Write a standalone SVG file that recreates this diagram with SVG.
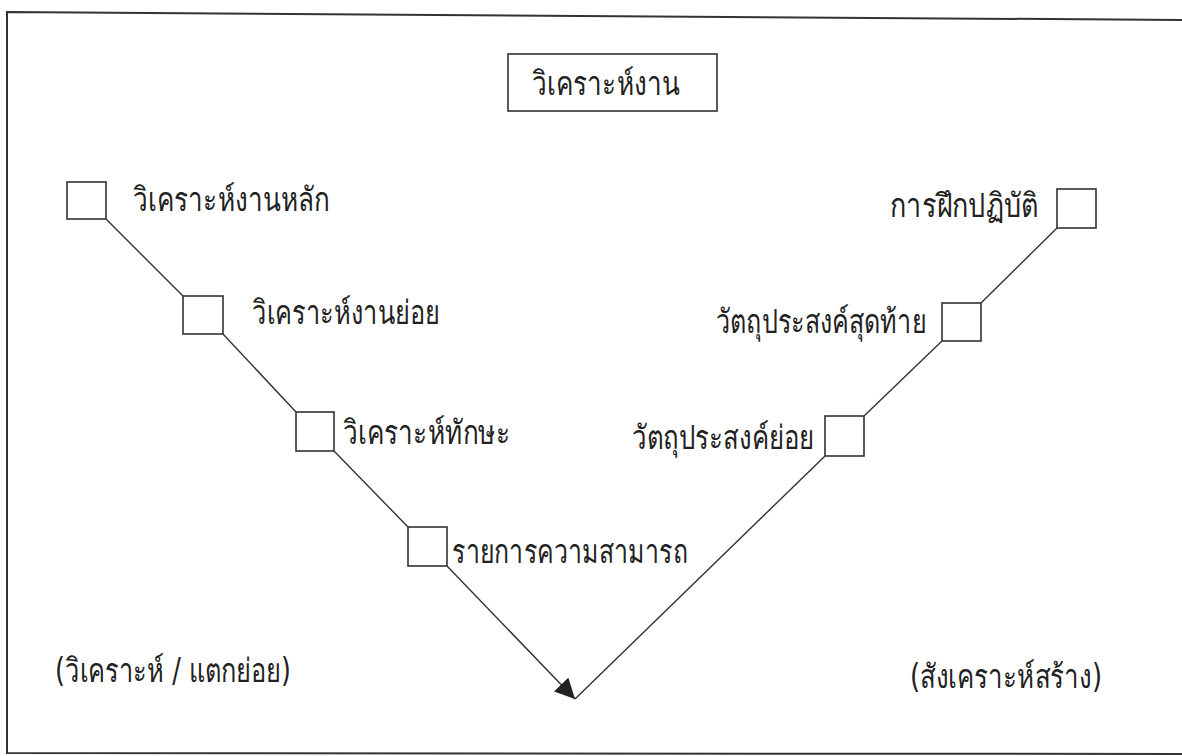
<svg xmlns="http://www.w3.org/2000/svg" width="1182" height="756" viewBox="0 0 1182 756">
<defs>
<style>
.frame{fill:none;stroke:#333;stroke-width:2}
.box{fill:#fff;stroke:#333;stroke-width:1.6}
.ln{fill:none;stroke:#333;stroke-width:1.4}
.t{font-family:"DejaVu Sans","Noto Sans",sans-serif;font-size:33px;fill:#222}
</style>
<marker id="arr" viewBox="0 0 10 10" refX="10" refY="5" markerWidth="20" markerHeight="20" markerUnits="userSpaceOnUse" orient="auto">
<path d="M0,0 L10,5 L0,10 Z" fill="#222"/>
</marker>
</defs>
<rect width="1182" height="756" fill="#fff"/>
<path class="frame" d="M1182,20 L7,12 L7,753 L1182,754"/>
<g id="title">
<rect class="box" x="508" y="54" width="209" height="57"/>
<text class="t" x="532" y="95" textLength="148" lengthAdjust="spacingAndGlyphs">วิเคราะห์งาน</text>
</g>
<g id="connectors">
<line class="ln" x1="106" y1="219" x2="183" y2="296"/>
<line class="ln" x1="223" y1="334" x2="296" y2="412"/>
<line class="ln" x1="334" y1="451" x2="408" y2="527"/>
<line class="ln" x1="447" y1="566" x2="575" y2="699" marker-end="url(#arr)"/>
<line class="ln" x1="575" y1="699" x2="825" y2="456"/>
<line class="ln" x1="864" y1="416" x2="942" y2="341"/>
<line class="ln" x1="981" y1="303" x2="1057" y2="228"/>
</g>
<g id="n1"><rect class="box" x="67" y="182" width="39" height="37"/><text class="t" x="133" y="211" textLength="197" lengthAdjust="spacingAndGlyphs">วิเคราะห์งานหลัก</text></g>
<g id="n2"><rect class="box" x="183" y="296" width="40" height="38"/><text class="t" x="252" y="324" textLength="188" lengthAdjust="spacingAndGlyphs">วิเคราะห์งานย่อย</text></g>
<g id="n3"><rect class="box" x="296" y="412" width="38" height="39"/><text class="t" x="343" y="444" textLength="167" lengthAdjust="spacingAndGlyphs">วิเคราะห์ทักษะ</text></g>
<g id="n4"><rect class="box" x="408" y="527" width="39" height="39"/><text class="t" x="452" y="563" textLength="236" lengthAdjust="spacingAndGlyphs">รายการความสามารถ</text></g>
<g id="n5"><rect class="box" x="825" y="416" width="39" height="40"/><text class="t" x="632" y="449" textLength="182" lengthAdjust="spacingAndGlyphs">วัตถุประสงค์ย่อย</text></g>
<g id="n6"><rect class="box" x="942" y="303" width="39" height="38"/><text class="t" x="716" y="333" textLength="210" lengthAdjust="spacingAndGlyphs">วัตถุประสงค์สุดท้าย</text></g>
<g id="n7"><rect class="box" x="1057" y="189" width="39" height="39"/><text class="t" x="890" y="217" textLength="148" lengthAdjust="spacingAndGlyphs">การฝึกปฏิบัติ</text></g>
<g id="lbl-left"><text class="t" x="55" y="682" textLength="236" lengthAdjust="spacingAndGlyphs">(วิเคราะห์ / แตกย่อย)</text></g>
<g id="lbl-right"><text class="t" x="910" y="688" textLength="192" lengthAdjust="spacingAndGlyphs">(สังเคราะห์สร้าง)</text></g>
</svg>
